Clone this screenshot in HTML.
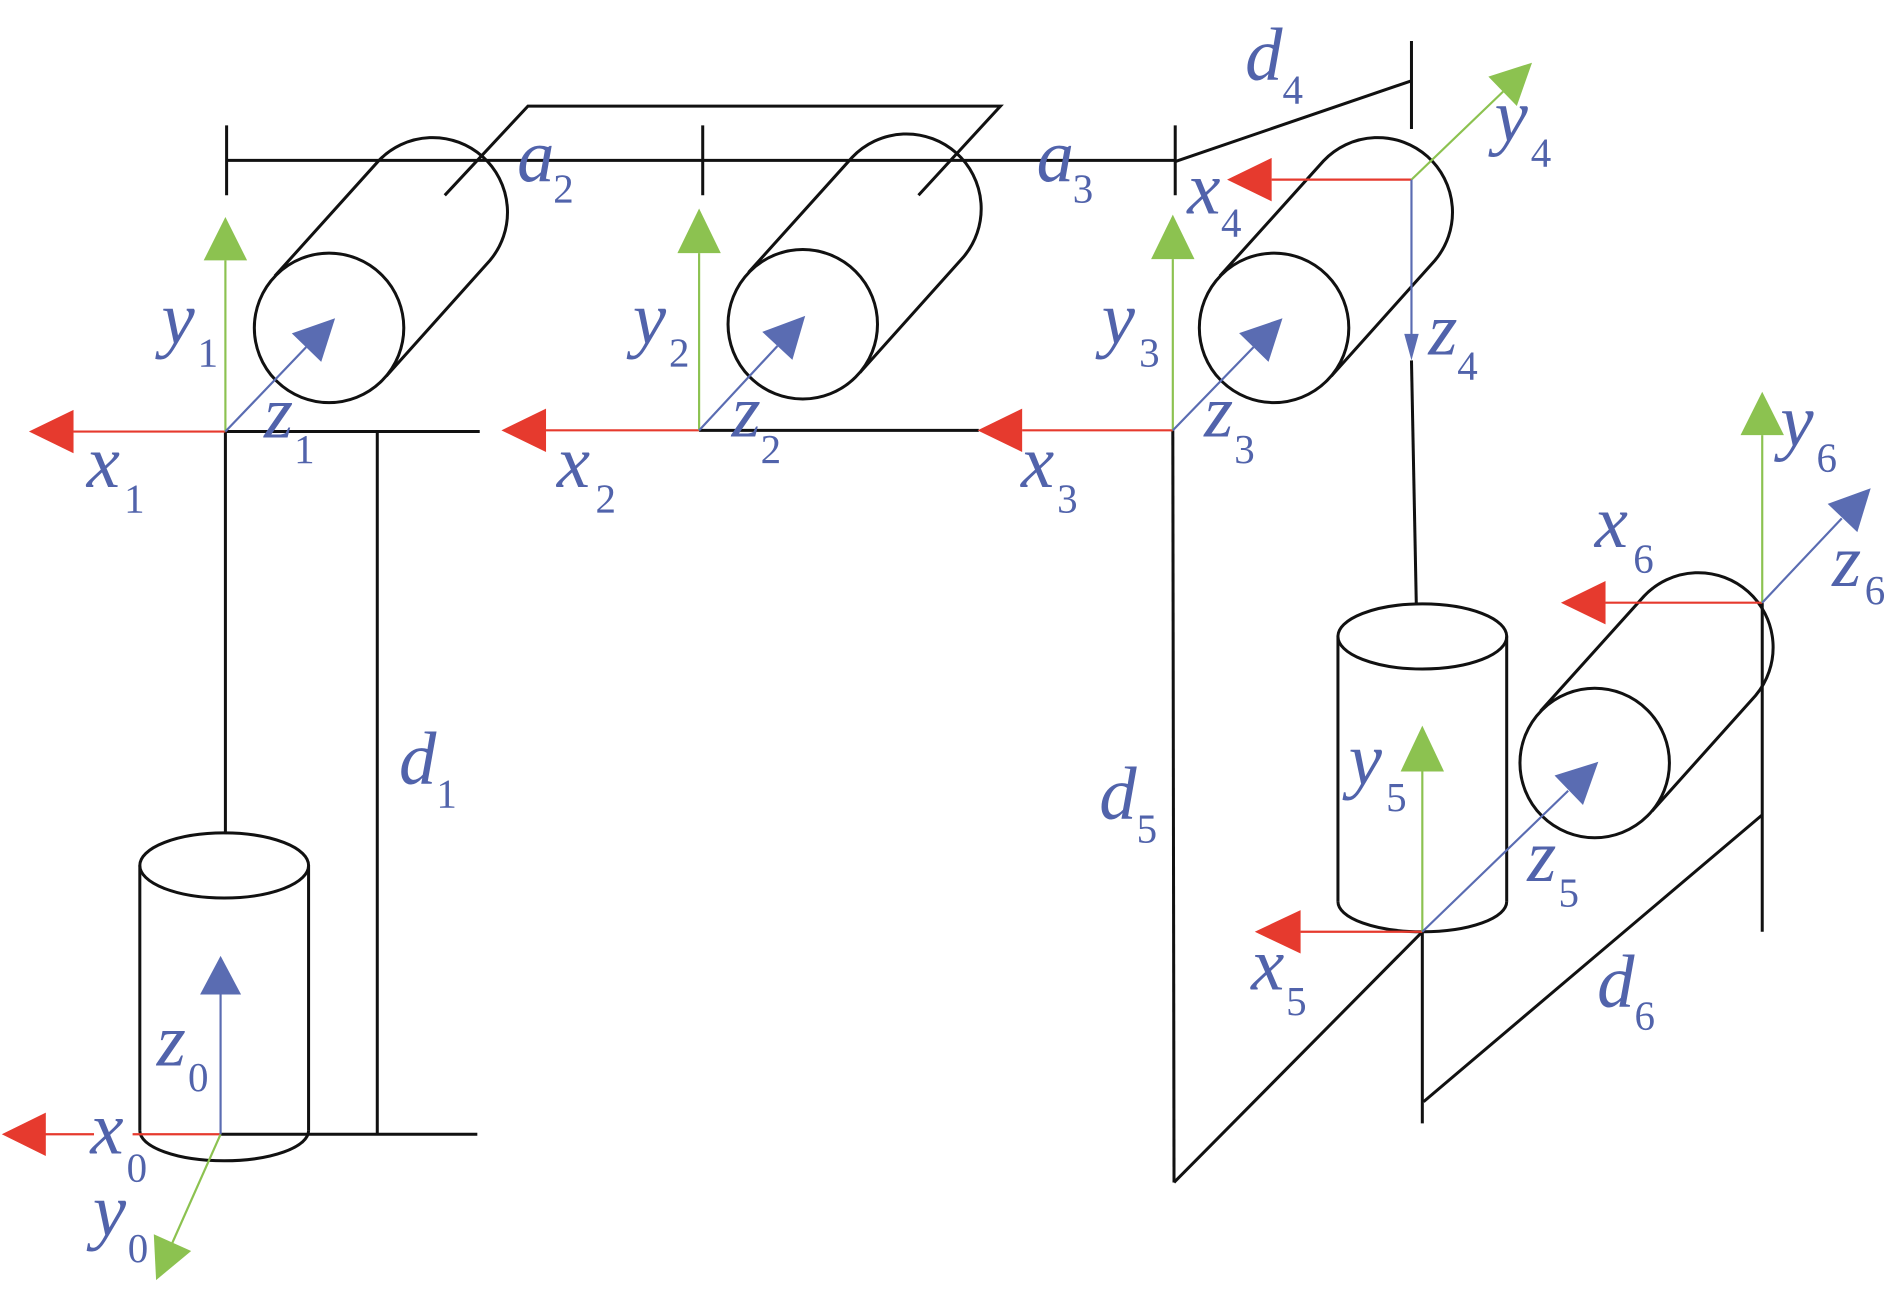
<!DOCTYPE html>
<html><head><meta charset="utf-8"><style>html,body{margin:0;padding:0;background:#fff}svg{display:block}</style></head>
<body>
<svg width="1890" height="1294" viewBox="0 0 1568 1073.5" xmlns="http://www.w3.org/2000/svg">
<rect x="0" y="0" width="1568" height="1073.5" fill="#fff"/>
<g stroke="#111" stroke-width="2.5" fill="none" stroke-linecap="butt">
  <!-- top dimension lines -->
  <line x1="188" y1="133" x2="975" y2="133"/>
  <line x1="188" y1="104" x2="188" y2="162"/>
  <line x1="583" y1="104" x2="583" y2="162"/>
  <line x1="975" y1="104" x2="975" y2="162"/>
  <line x1="975" y1="134" x2="1171" y2="67"/>
  <line x1="1171" y1="34" x2="1171" y2="107"/>
  <polyline points="369,162 438,88 830,88 762,162"/>
  <!-- horizontal cylinders -->
  <path d="M228,229 L314,133.5 A62,62 0 0 1 406.5,216 L320.5,312"/>
  <circle cx="273" cy="272" r="62"/>
  <path d="M621,226 L707,130.5 A62,62 0 0 1 799.5,213 L713.5,309"/>
  <circle cx="666" cy="269" r="62"/>
  <path d="M1012,229 L1098,133.5 A62,62 0 0 1 1190.5,216 L1104.5,312"/>
  <circle cx="1057" cy="272" r="62"/>
  <path d="M1278,590 L1364,494.5 A62,62 0 0 1 1456.5,577 L1370.5,673"/>
  <circle cx="1323" cy="633" r="62"/>
  <!-- vertical cylinders -->
  <ellipse cx="186" cy="718" rx="70" ry="27"/>
  <line x1="116" y1="718" x2="116" y2="938"/>
  <line x1="256" y1="718" x2="256" y2="938"/>
  <path d="M116,938 A70,25 0 0 0 256,938"/>
  <ellipse cx="1180" cy="528" rx="70" ry="27"/>
  <line x1="1110" y1="528" x2="1110" y2="748"/>
  <line x1="1250" y1="528" x2="1250" y2="748"/>
  <path d="M1110,748 A70,25 0 0 0 1250,748"/>
  <!-- links -->
  <line x1="187" y1="358" x2="398" y2="358"/>
  <line x1="187" y1="358" x2="187" y2="692"/>
  <line x1="313" y1="358" x2="313" y2="941"/>
  <line x1="183" y1="941" x2="396" y2="941"/>
  <line x1="580" y1="357" x2="812" y2="357"/>
  <line x1="973" y1="357" x2="974" y2="981"/>
  <line x1="974" y1="981" x2="1180" y2="773"/>
  <line x1="1180" y1="773" x2="1180" y2="932"/>
  <line x1="1181" y1="914" x2="1462" y2="676"/>
  <line x1="1462" y1="500" x2="1462" y2="773"/>
  <line x1="1171" y1="299" x2="1175" y2="501"/>
</g>

<!-- axis lines -->
<g stroke-width="1.8" fill="none">
  <g stroke="#e63a2e">
    <line x1="37" y1="941" x2="78" y2="941"/>
    <line x1="110" y1="941" x2="183" y2="941"/>
    <line x1="61" y1="358" x2="187" y2="358"/>
    <line x1="453" y1="357" x2="580" y2="357"/>
    <line x1="848" y1="357" x2="973" y2="357"/>
    <line x1="1055" y1="149" x2="1171" y2="149"/>
    <line x1="1079" y1="773" x2="1180" y2="773"/>
    <line x1="1332" y1="500" x2="1462" y2="500"/>
  </g>
  <g stroke="#8cc250">
    <line x1="183" y1="941" x2="143" y2="1031"/>
    <line x1="187" y1="358" x2="187" y2="216"/>
    <line x1="580" y1="357" x2="580" y2="210"/>
    <line x1="973" y1="357" x2="973" y2="215"/>
    <line x1="1171" y1="149" x2="1247" y2="76"/>
    <line x1="1180" y1="773" x2="1180" y2="640"/>
    <line x1="1462" y1="500" x2="1462" y2="361"/>
  </g>
  <g stroke="#5a6cb2">
    <line x1="183" y1="941" x2="183" y2="825"/>
    <line x1="187" y1="358" x2="254" y2="288"/>
    <line x1="580" y1="357" x2="645" y2="287"/>
    <line x1="973" y1="357" x2="1040" y2="288"/>
    <line x1="1171" y1="149" x2="1171" y2="278"/>
    <line x1="1180" y1="773" x2="1301" y2="656"/>
    <line x1="1462" y1="500" x2="1528" y2="430"/>
  </g>
</g>

<!-- arrowheads -->
<g fill="#e63a2e">
  <polygon points="1.5,941 38,923 38,959"/>
  <polygon points="24,358 61,340 61,376"/>
  <polygon points="416,357 453,339 453,375"/>
  <polygon points="811,357 848,339 848,375"/>
  <polygon points="1018,149 1055,131 1055,167"/>
  <polygon points="1041,773 1079,755 1079,791"/>
  <polygon points="1295,500 1332,482 1332,518"/>
</g>
<g fill="#8cc250">
  <polygon points="129.5,1062 158.6,1037.8 127.6,1024"/>
  <polygon points="187,180 169,216 205,216"/>
  <polygon points="580,173 562,210 598,210"/>
  <polygon points="973,178 955,215 991,215"/>
  <polygon points="1271,52 1258.4,87.9 1234.8,63.5"/>
  <polygon points="1180,602 1162,640 1198,640"/>
  <polygon points="1462,325 1444,361 1480,361"/>
</g>
<g fill="#5a6cb2">
  <polygon points="183,793 166,825 200,825"/>
  <polygon points="278,264 266.5,300.2 242.1,276.6"/>
  <polygon points="668,262 657.4,298.5 632.4,275.3"/>
  <polygon points="1064,264 1052.4,300.2 1028,276.4"/>
  <polygon points="1171,299 1165,277 1177,277"/>
  <polygon points="1326,632 1313.3,667.8 1289.7,643.4"/>
  <polygon points="1552,405 1540.9,441.4 1516.3,418"/>
</g>

<!-- labels -->
<g fill="#5163ab" font-family="'Liberation Serif', 'DejaVu Serif', serif">
  <g font-size="62" font-style="italic">
    <text x="1033" y="66">d</text>
    <text x="429" y="150">a</text>
    <text x="860" y="150">a</text>
    <text x="985" y="177">x</text>
    <text x="1240" y="117">y</text>
    <text x="134" y="285">y</text>
    <text x="525" y="285">y</text>
    <text x="914" y="285">y</text>
    <text x="1185" y="294">z</text>
    <text x="219" y="363">z</text>
    <text x="607" y="362">z</text>
    <text x="999" y="362">z</text>
    <text x="72" y="404">x</text>
    <text x="462" y="404">x</text>
    <text x="847" y="404">x</text>
    <text x="1477" y="370">y</text>
    <text x="1323" y="454">x</text>
    <text x="1520" y="486">z</text>
    <text x="331" y="650">d</text>
    <text x="912" y="679">d</text>
    <text x="1119" y="651">y</text>
    <text x="1267" y="731">z</text>
    <text x="1038" y="821">x</text>
    <text x="1325" y="835">d</text>
    <text x="130" y="884">z</text>
    <text x="75" y="957">x</text>
    <text x="77" y="1025">y</text>
  </g>
  <g font-size="34">
    <text x="1064" y="86">4</text>
    <text x="459" y="168">2</text>
    <text x="890" y="168">3</text>
    <text x="1013" y="196">4</text>
    <text x="1270" y="138">4</text>
    <text x="164" y="304">1</text>
    <text x="555" y="304">2</text>
    <text x="945" y="304">3</text>
    <text x="1209" y="315">4</text>
    <text x="244" y="384">1</text>
    <text x="631" y="384">2</text>
    <text x="1024" y="384">3</text>
    <text x="103" y="425">1</text>
    <text x="494" y="425">2</text>
    <text x="877" y="425">3</text>
    <text x="1507" y="391">6</text>
    <text x="1355" y="475">6</text>
    <text x="1547" y="501">6</text>
    <text x="362" y="670">1</text>
    <text x="943" y="699">5</text>
    <text x="1150" y="673">5</text>
    <text x="1293" y="752">5</text>
    <text x="1067" y="842">5</text>
    <text x="1356" y="854">6</text>
    <text x="156" y="905">0</text>
    <text x="105" y="980">0</text>
    <text x="106" y="1047">0</text>
  </g>
</g>
</svg>
</body></html>
